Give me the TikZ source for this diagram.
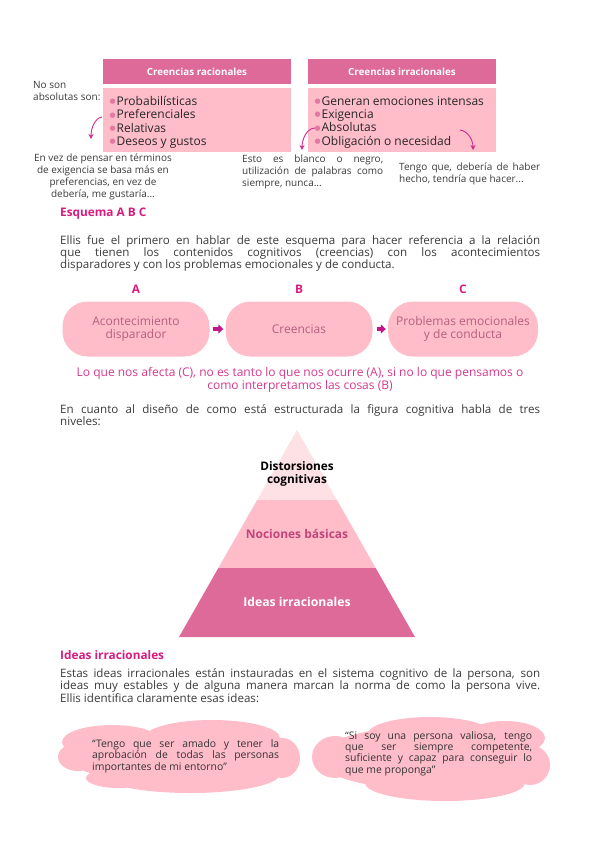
\documentclass[tikz,border=0pt]{standalone}
\usepackage{fontspec}
\setmainfont{Open Sans}
\newfontfamily\dotfont{DejaVu Sans}
\usetikzlibrary{positioning, arrows.meta, shapes.misc}
\hyphenpenalty=10000
\exhyphenpenalty=10000

\definecolor{hdrpink}{HTML}{DD6A98}
\definecolor{boxpink}{HTML}{FFBDCA}
\definecolor{toppink}{HTML}{FDE1E4}
\definecolor{headmag}{HTML}{D81B7F}
\definecolor{arrmag}{HTML}{C4168C}
\definecolor{curlmag}{HTML}{CC2C90}
\definecolor{pilltxt}{HTML}{B5607E}
\definecolor{nocion}{HTML}{C1457A}
\definecolor{saytxt}{HTML}{D4398C}
\definecolor{bodytxt}{HTML}{3A3A3A}
\definecolor{dotpink}{HTML}{E07AA0}

\tikzset{
  hdrbox/.style={fill=hdrpink, minimum width=188pt, minimum height=25pt, inner sep=0pt,
    font=\fontsize{9.8}{11}\selectfont\bfseries\color{white}},
  listbox/.style={fill=boxpink, minimum width=188pt, minimum height=64pt, inner sep=0pt},
  listtext/.style={anchor=north west, inner sep=0pt, align=left,
    font=\fontsize{12}{13.4}\selectfont\color{black!85}}
}
\tikzset{
  note/.style={inner sep=0pt, font=\fontsize{10}{11.8}\selectfont\color{bodytxt}},
  bodypar/.style={anchor=north west, inner sep=0pt, text width=480pt, align=justify,
    font=\fontsize{11.6}{12.4}\selectfont\color{bodytxt}},
  heading/.style={anchor=west, inner sep=0pt, font=\fontsize{11.8}{13}\selectfont\bfseries\color{headmag}},
  pill/.style={fill=boxpink, rounded corners=25pt, minimum height=55pt, inner sep=0pt,
    align=center, font=\fontsize{12}{13.5}\selectfont\color{pilltxt}},
  curl/.style={curlmag, line width=0.9pt, -{Stealth[length=5pt,width=5pt]}},
  blockarr/.style={arrmag, line width=4pt, -{Triangle[length=5pt,width=9pt]}},
  cloudtext/.style={anchor=north west, inner sep=0pt, text width=187pt, align=justify,
    font=\fontsize{10.4}{11.3}\selectfont\color{black!80}}
}
\newcommand{\bul}{\raisebox{1.6pt}{\color{dotpink}\dotfont\fontsize{7}{7}\selectfont ●}\hspace{0.8pt}}

\begin{document}
\begin{tikzpicture}[x=1pt, y=-1pt, >=stealth]
  \useasboundingbox (0,0) rectangle (600,848);

  % two kinds of beliefs
  \node[hdrbox] (rahead) at (197,71.5) {Creencias racionales};
  \node[hdrbox] (irhead) at (402,71.5) {Creencias irracionales};
  \node[listbox] (rabox) at (197,120) {};
  \node[listbox] (irbox) at (402,120) {};
  \node[listtext] (ralist) at (109.5,96) {\bul Probabilísticas\\ \bul Preferenciales\\ \bul Relativas\\ \bul Deseos y gustos};
  \node[listtext] (irlist) at (314.5,96) {\bul Generan emociones intensas\\ \bul Exigencia\\ \bul Absolutas\\ \bul Obligación o necesidad};
  \node[note, anchor=north west, align=left] (noson) at (33,81.5) {No son\\ absolutas son:};

  \coordinate (ratail) at (102,117);
  \coordinate (ratip) at (91,139);
  \coordinate (irtail) at (315,128);
  \coordinate (irtip) at (302,150);
  \coordinate (obtail) at (460,130);
  \coordinate (obtip) at (473,150);
  \draw[curl] (ratail) .. controls (95,118) and (91,128) .. (ratip);
  \draw[curl] (irtail) .. controls (307,128) and (302,139) .. (irtip);
  \draw[curl] (obtail) .. controls (468,131) and (473,140) .. (obtip);

  \node[note, anchor=north, align=center] (noteA) at (103,154) {En vez de pensar en términos\\ de exigencia se basa más en\\ preferencias, en vez de\\ debería, me gustaría...};
  \node[note, anchor=north west, text width=141pt, align=justify] (noteB) at (242,155) {Esto es blanco o negro,\linebreak utilización de palabras como\linebreak siempre, nunca...};
  \node[note, anchor=north west, text width=141pt, align=justify] (noteC) at (399,163) {Tengo que, debería de haber\linebreak hecho, tendría que hacer...};

  % esquema A B C
  \node[heading] (abchead) at (60,214) {Esquema A B C};
  \node[bodypar] (abcpar) at (60,235) {Ellis fue el primero en hablar de este esquema para hacer referencia a la relación\linebreak que tienen los contenidos cognitivos (creencias) con los acontecimientos\linebreak disparadores y con los problemas emocionales y de conducta.};

  \node[pill, minimum width=147pt] (pa) at (136,329) {Acontecimiento\\ disparador};
  \node[pill, minimum width=147pt] (pb) at (299,329) {Creencias};
  \node[pill, minimum width=150pt] (pc) at (463,329) {Problemas emocionales\\ y de conducta};
  \node[heading, anchor=center] (la) at (136,289) {A};
  \node[heading, anchor=center] (lb) at (299,289) {B};
  \node[heading, anchor=center] (lc) at (463,289) {C};
  \draw[blockarr, shorten <=3pt, shorten >=2pt] (pa) -- (pb);
  \draw[blockarr, shorten <=4pt, shorten >=2pt] (pb) -- (pc);

  \node[inner sep=0pt, align=center, font=\fontsize{12}{13}\selectfont\color{saytxt}] (lema) at (300,380) {Lo que nos afecta (C), no es tanto lo que nos ocurre (A), si no lo que pensamos o\\ como interpretamos las cosas (B)};

  \node[bodypar] (niveles) at (60,404.5) {En cuanto al diseño de como está estructurada la figura cognitiva habla de tres\linebreak niveles:};

  % cognitive pyramid
  \begin{scope}
    \clip (297,430) -- (415,637) -- (179,637) -- cycle;
    \fill[toppink] (170,425) rectangle (425,500);
    \fill[boxpink] (170,500) rectangle (425,568);
    \fill[hdrpink] (170,568) rectangle (425,640);
  \end{scope}
  \node[inner sep=0pt, align=center, font=\fontsize{11.8}{13}\selectfont\bfseries\color{black}] (distor) at (297,474) {Distorsiones\\ cognitivas};
  \node[inner sep=0pt, font=\fontsize{12}{13}\selectfont\bfseries\color{nocion}] (nociones) at (297,534) {Nociones básicas};
  \node[inner sep=0pt, font=\fontsize{12.2}{13}\selectfont\bfseries\color{white}] (ideas) at (297,602) {Ideas irracionales};

  % ideas irracionales
  \node[heading] (idhead) at (60,655) {Ideas irracionales};
  \node[bodypar] (idpar) at (60,668.5) {Estas ideas irracionales están instauradas en el sistema cognitivo de la persona, son\linebreak ideas muy estables y de alguna manera marcan la norma de como la persona vive.\linebreak Ellis identifica claramente esas ideas:};

  \fill[boxpink] (180,757) ellipse (112pt and 27pt)
    (112,742) ellipse (50pt and 17pt)
    (212,738) ellipse (68pt and 18pt)
    (78,757) ellipse (20pt and 14pt)
    (190,774) ellipse (90pt and 19pt)
    (118,778) ellipse (32pt and 10pt)
    (282,758) ellipse (18pt and 20pt);
  \fill[boxpink] (430,758) ellipse (112pt and 32pt)
    (430,734) ellipse (62pt and 17pt)
    (505,738) ellipse (40pt and 17pt)
    (335,757) ellipse (23pt and 21pt)
    (530,765) ellipse (20pt and 20pt)
    (445,783) ellipse (80pt and 18pt);
  \node[cloudtext] (q1) at (92,739.5) {“Tengo que ser amado y tener la\linebreak aprobación de todas las personas\linebreak importantes de mi entorno”};
  \node[cloudtext] (q2) at (345,731) {“Si soy una persona valiosa, tengo\linebreak que ser siempre competente,\linebreak suficiente y capaz para conseguir lo\linebreak que me proponga”};
\end{tikzpicture}
\end{document}
